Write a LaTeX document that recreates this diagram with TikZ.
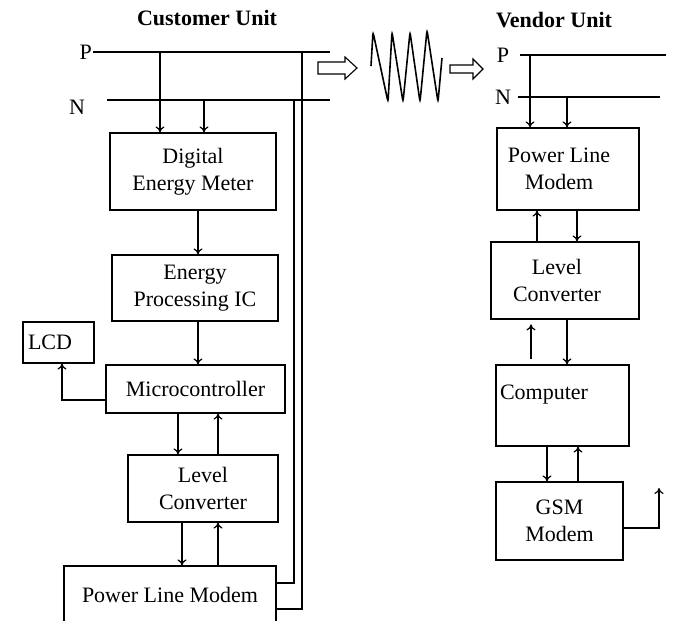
\documentclass[tikz,border=0pt]{standalone}
\usepackage{fontspec}
\setmainfont{Liberation Serif}
\usetikzlibrary{arrows.meta}
\newcommand{\blkfont}{\fontsize{22}{27}\selectfont}
\tikzset{
  blk/.style={draw, line width=1.2pt, align=center, inner sep=0pt},
  lbl/.style={inner sep=1pt},
  ttl/.style={font=\blkfont\bfseries},
  wire/.style={line width=1.2pt},
  sig/.style={line width=1.2pt, -{To[length=6pt,width=9pt]}},
  hollow/.style={line width=1.1pt}
}
\begin{document}
\begin{tikzpicture}[x=1pt, y=-1pt, font=\blkfont]
  \useasboundingbox[fill=white] (0,0) rectangle (675,621);
  \node[ttl] (cTitle) at (207,18) {Customer Unit};
  \node[ttl] (vTitle) at (554,20) {Vendor Unit};

  \node[lbl, anchor=east] (cP) at (93,52) {P};
  \node[lbl] (cN) at (77,107) {N};
  \coordinate (cPr) at (330,52);
  \coordinate (cNl) at (107,100);
  \coordinate (cNr) at (330,100);
  \draw[wire] (cP.east) -- (cPr);
  \draw[wire] (cNl) -- (cNr);

  \node[blk, minimum width=166pt, minimum height=77pt] (dem) at (193,171.5) {Digital\\Energy Meter};
  \node[blk, minimum width=166pt, minimum height=66pt] (epic) at (195,288) {Energy\\Processing IC};
  \node[blk, minimum width=179pt, minimum height=48pt] (mcu) at (195.5,389) {Microcontroller};
  \node[blk, text width=61pt, inner xsep=5pt, minimum height=41pt, align=left] (lcd) at (58.5,342.5) {LCD};
  \node[blk, minimum width=150pt, minimum height=67pt] (lc1) at (203,488.5) {Level\\Converter};
  \node[blk, minimum width=212pt, minimum height=57pt] (plm1) at (170,594.5) {Power Line Modem};

  \coordinate (cPd) at (160,52);
  \coordinate (cNd) at (204,100);
  \draw[sig] (cPd) -- (cPd |- dem.north);
  \draw[sig] (cNd) -- (cNd |- dem.north);
  \draw[sig] ([xshift=5pt]dem.south) -- ([xshift=5pt]dem.south |- epic.north);
  \draw[sig] ([xshift=3pt]epic.south) -- ([xshift=3pt]epic.south |- mcu.north);
  \draw[sig] ([yshift=-11pt]mcu.west) -| ([xshift=3.5pt]lcd.south);
  \draw[sig] ([xshift=-17.5pt]mcu.south) -- ([xshift=-17.5pt]mcu.south |- lc1.north);
  \draw[sig] ([xshift=15pt]lc1.north) -- ([xshift=15pt]lc1.north |- mcu.south);
  \draw[sig] ([xshift=-21pt]lc1.south) -- ([xshift=-21pt]lc1.south |- plm1.north);
  \draw[sig] ([xshift=15pt]lc1.south |- plm1.north) -- ([xshift=15pt]lc1.south);

  \coordinate (cPt) at (302,52);
  \coordinate (cNt) at (294,100);
  \draw[wire] (cPt) |- ([yshift=-14.5pt]plm1.east);
  \draw[wire] (cNt) |- ([yshift=11.5pt]plm1.east);

  \draw[hollow] (318,62) -- (345,62) -- (345,57) -- (357,68) -- (345,79) -- (345,74) -- (318,74) -- cycle;
  \draw[line width=1.6pt, rounded corners=3pt] (371,66) -- (373,32) -- (388,102) -- (392,32) -- (403,102)
    -- (410,32) -- (420,102) -- (427,30) -- (438,102) -- (442,58);
  \draw[hollow] (450,65) -- (473,65) -- (473,59) -- (483,69) -- (473,79) -- (473,73) -- (450,73) -- cycle;

  \node[lbl] (vP) at (503,55) {P};
  \node[lbl] (vN) at (503,97) {N};
  \coordinate (vPl) at (520,55);
  \coordinate (vPr) at (666,55);
  \coordinate (vNl) at (518,97);
  \coordinate (vNr) at (660,97);
  \draw[wire] (vPl) -- (vPr);
  \draw[wire] (vNl) -- (vNr);

  \node[blk, minimum width=142pt, minimum height=82pt] (vplm) at (568,169) {Power Line\hspace*{18pt}\\Modem\hspace*{18pt}};
  \node[blk, minimum width=148pt, minimum height=77pt] (vlc) at (565,280.5) {Level\hspace*{16pt}\\Converter\hspace*{16pt}};
  \node[blk, text width=125pt, inner xsep=4pt, minimum height=81pt, align=left] (pc) at (562.5,405.5) {Computer\\ \mbox{}};
  \node[blk, minimum width=127pt, minimum height=78pt] (gsm) at (559.5,521) {GSM\\Modem};

  \coordinate (vPd) at (530,55);
  \coordinate (vNd) at (567,97);
  \draw[sig] (vPd) -- (vPd |- vplm.north);
  \draw[sig] (vNd) -- (vNd |- vplm.north);
  \draw[sig] ([xshift=-28pt]vlc.north) -- ([xshift=-28pt]vlc.north |- vplm.south);
  \draw[sig] ([xshift=9pt]vplm.south) -- ([xshift=9pt]vplm.south |- vlc.north);
  \draw[sig] ([xshift=-31.5pt,yshift=5pt]pc.north) -- ++(0,-35);
  \draw[sig] ([xshift=2pt]vlc.south) -- ([xshift=2pt]vlc.south |- pc.north);
  \draw[sig] ([xshift=-15.5pt]pc.south) -- ([xshift=-15.5pt]pc.south |- gsm.north);
  \draw[sig] ([xshift=15.5pt]pc.south |- gsm.north) -- ([xshift=15.5pt]pc.south);
  \coordinate (ant) at (659,488);
  \draw[sig] ([yshift=-7pt]gsm.east) -| (ant);
\end{tikzpicture}
\end{document}
